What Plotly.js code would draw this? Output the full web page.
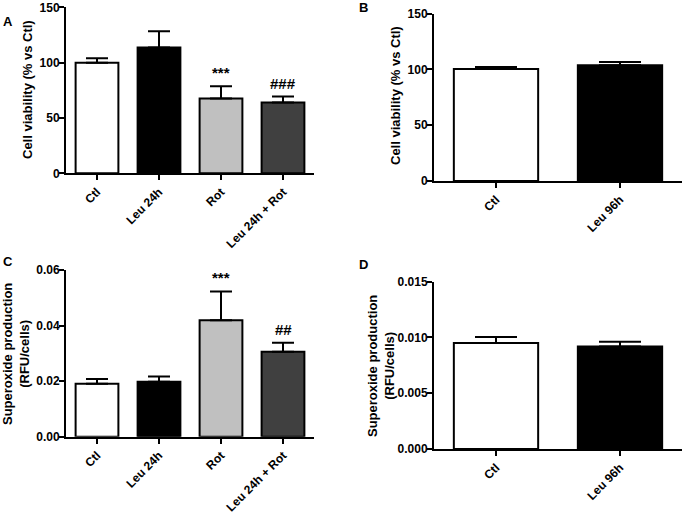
<!DOCTYPE html>
<html>
<head>
<meta charset="utf-8">
<script src="https://cdn.plot.ly/plotly-3.0.1.min.js"></script>
<style>html,body{margin:0;padding:0;background:#fff}</style>
</head>
<body>
<div id="chart" style="width:685px;height:512px"></div>
<script>
// Data
const catsAC = ['Ctl', 'Leu 24h', 'Rot', 'Leu 24h + Rot'];
const catsBD = ['Ctl', 'Leu 96h'];
const colorsAC = ['#ffffff', '#000000', '#c0c0c0', '#404040'];
const colorsBD = ['#ffffff', '#000000'];

const viabA = [100, 113.7, 67.5, 64];
const viabAErr = [4, 14.7, 11.1, 5.3];
const sigA = ['', '', '***', '###'];

const viabB = [100.3, 103.6];
const viabBErr = [1.8, 3];

const superC = [0.0191, 0.0198, 0.0419, 0.0306];
const superCErr = [0.0017, 0.0019, 0.0104, 0.0032];
const sigC = ['', '', '***', '##'];

const superD = [0.0095, 0.0092];
const superDErr = [0.00055, 0.00042];

const titleViab = 'Cell viability (% vs Ctl)';
const titleSuper = 'Superoxide production<br>(RFU/cells)';

const W = 685, H = 512;
const FAM = 'Liberation Sans, Arial, sans-serif';
const FONT = {family: FAM, size: 12, color: '#000', weight: 'bold'};
const TFONT = {family: FAM, size: 13, color: '#000', weight: 'bold'};

function barTrace(x, y, err, colors, xa, ya, capw, bw) {
  return {
    type: 'bar', x: x, y: y, xaxis: xa, yaxis: ya, width: bw,
    marker: {color: colors, line: {color: '#000', width: 2}},
    error_y: {type: 'data', symmetric: false, array: err, arrayminus: err.map(() => 0),
              color: '#000', thickness: 2, width: capw},
    showlegend: false, hoverinfo: 'x+y'
  };
}

const data = [
  barTrace(catsAC, viabA, viabAErr, colorsAC, 'x', 'y', 11, 0.69),
  barTrace(catsBD, viabB, viabBErr, colorsBD, 'x2', 'y2', 21, 0.68),
  barTrace(catsAC, superC, superCErr, colorsAC, 'x3', 'y3', 11, 0.69),
  barTrace(catsBD, superD, superDErr, colorsBD, 'x4', 'y4', 21, 0.68)
];

function px(a, b) { return [a / W, b / W]; }
function py(top, bottom) { return [1 - bottom / H, 1 - top / H]; }

function xax(dom, anchor) {
  return {domain: dom, anchor: anchor, showline: true, linewidth: 2, linecolor: '#000', ticks: 'outside',
          ticklen: 5, tickwidth: 2, tickcolor: '#000', tickangle: -45, showgrid: false,
          zeroline: false, tickfont: FONT, fixedrange: true};
}
function yax(dom, anchor, range, dtick, fmt) {
  return {domain: dom, anchor: anchor, range: range, dtick: dtick, tick0: 0, tickformat: fmt,
          showline: true, linewidth: 2, linecolor: '#000', ticks: 'outside',
          ticklen: 5, tickwidth: 2, tickcolor: '#000', showgrid: false, zeroline: false,
          ticklabelstandoff: -3, tickfont: FONT, fixedrange: true};
}

const annotations = [];
function addSig(sig, cats, vals, errs, xa, ya) {
  sig.forEach((s, i) => {
    if (!s) return;
    annotations.push({x: cats[i], y: vals[i] + errs[i], xref: xa, yref: ya, text: s,
      showarrow: false, yanchor: 'bottom', yshift: 3,
      font: {family: FAM, size: 15, color: '#000'}});
  });
}
addSig(sigA, catsAC, viabA, viabAErr, 'x', 'y');
addSig(sigC, catsAC, superC, superCErr, 'x3', 'y3');

// Y-axis titles (placed beside each panel's axis)
const ytitles = [[titleViab, 27, 90], [titleViab, 395, 96], [titleSuper, 16, 354], [titleSuper, 381, 366]];
ytitles.forEach(t => annotations.push({text: t[0], x: t[1] / W, y: 1 - t[2] / H, xref: 'paper', yref: 'paper',
  xanchor: 'center', yanchor: 'middle', textangle: -90, showarrow: false, font: TFONT}));

const letters = [['A', 1, 21], ['B', 357, 7], ['C', 1, 261], ['D', 357, 264]];
letters.forEach(l => annotations.push({text: l[0], x: l[1] / W, y: 1 - l[2] / H, xref: 'paper', yref: 'paper',
  xanchor: 'left', yanchor: 'middle', showarrow: false,
  font: {family: FAM, size: 13, color: '#000', weight: 'bold'}}));

const layout = {
  width: W, height: H, margin: {l: 0, r: 0, t: 0, b: 0},
  paper_bgcolor: '#fff', plot_bgcolor: '#fff', font: FONT, showlegend: false,
  xaxis: xax(px(66, 314), 'y'),
  yaxis: yax(py(7.3, 173.3), 'x', [0, 150], 50, 'd'),
  xaxis2: xax(px(434, 682), 'y2'),
  yaxis2: yax(py(13.5, 181), 'x2', [0, 150], 50, 'd'),
  xaxis3: xax(px(66, 314), 'y3'),
  yaxis3: yax(py(270, 436.7), 'x3', [0, 0.06], 0.02, '.2f'),
  xaxis4: xax(px(434, 682), 'y4'),
  yaxis4: yax(py(281.7, 449), 'x4', [0, 0.015], 0.005, '.3f'),
  annotations: annotations
};

Plotly.newPlot('chart', data, layout, {displayModeBar: false, staticPlot: true});
</script>
</body>
</html>
